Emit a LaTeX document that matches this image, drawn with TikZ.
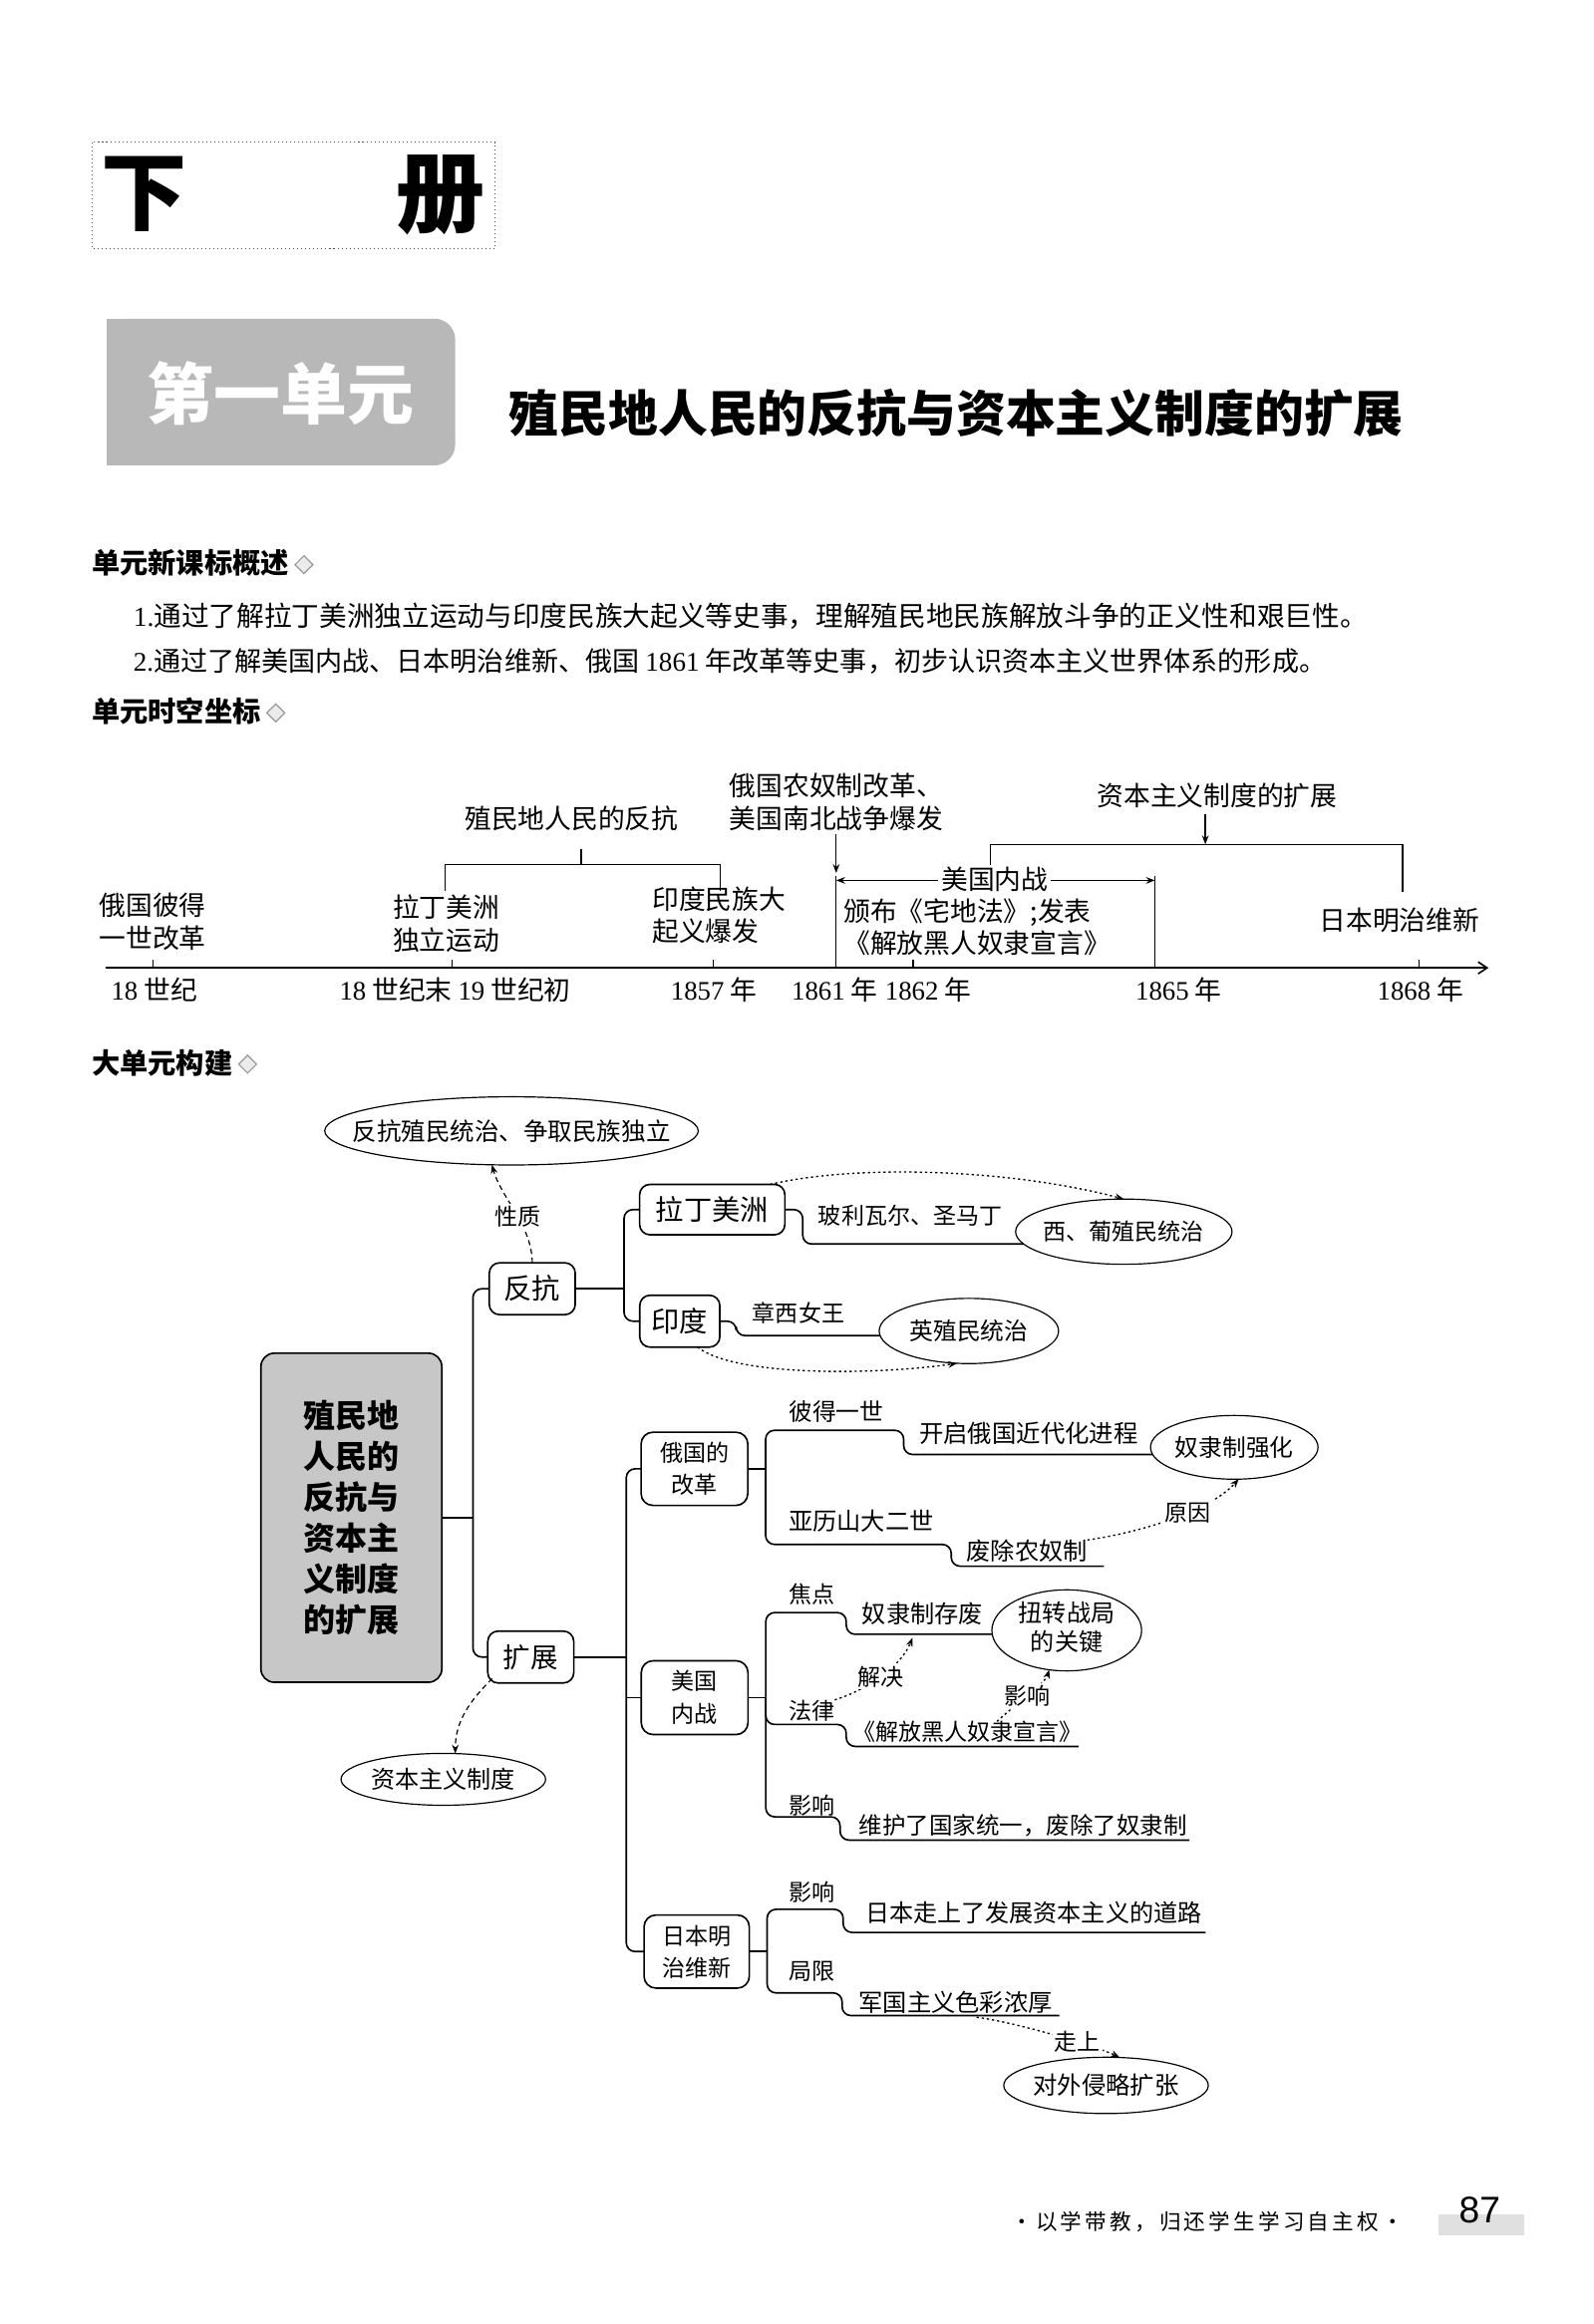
\documentclass[tikz,border=0pt]{standalone}
\usepackage{fontspec}
\setmainfont{Noto Sans CJK SC}
\newfontfamily\lsr{Liberation Serif}
\newfontfamily\lss{Liberation Sans}
\usetikzlibrary{shapes.geometric,arrows.meta,calc}
\newcommand\fsz[2]{\fontsize{#1}{#2}\selectfont}
\newcommand\zw[1]{\makebox[0pt]{#1}}
\tikzset{
  every node/.style={inner sep=0pt, outer sep=0pt},
  lbl/.style={anchor=west, font=\fsz{16}{19}},
  tl/.style={anchor=west, align=left, font=\fsz{18}{22}},
  tc/.style={font=\fsz{18}{22}},
  box/.style={draw, line width=1.1pt, rounded corners=7pt, fill=white, align=center},
  oval/.style={draw, ellipse, line width=0.8pt, fill=white, align=center},
  conn/.style={line width=1.1pt, rounded corners=6pt},
  tline/.style={line width=0.9pt},
  tip/.style={-{Stealth[length=6pt,width=4.5pt]}},
  dotarr/.style={line width=0.9pt, dash pattern=on 1.5pt off 2pt, -{Stealth[length=6pt,width=4.5pt]}},
  dasharr/.style={line width=0.8pt, dash pattern=on 3.5pt off 2.5pt, -{Stealth[length=6pt,width=4.5pt]}},
  onpath/.style={fill=white, inner sep=1.5pt, font=\fsz{15.5}{18}},
  ico/.style={diamond, draw=black!40, line width=0.8pt, fill=black!8, minimum width=12pt, minimum height=12pt},
  hd/.style={anchor=west, font=\fsz{19}{22}\bfseries},
}
\begin{document}
\begin{tikzpicture}[x=1pt,y=-1pt]
\useasboundingbox (0,0) rectangle (1075,1568);
\fill[white] (0,0) rectangle (1075,1568);

% ---------- header ----------
\draw[dotted, line width=0.7pt, black!70] (62,96) rectangle (334,168);
\node[font=\fsz{58}{60}\bfseries] (xia) at (97,131) {下};
\node[font=\fsz{60}{62}\bfseries] (ce) at (297.5,131.5) {册};

\fill[black!28, rounded corners=14pt] (72,215) rectangle (307,314);
\fill[black!28] (72,215) rectangle (150,314);
\node[font=\fsz{45}{48}\bfseries, text=white] (dyy) at (189.5,265.5) {第一单元};
\node[font=\fsz{33.5}{36}\bfseries] (title) at (645,279) {殖民地人民的反抗与资本主义制度的扩展};

% ---------- section 1 ----------
\node[hd] (h1) at (62,380) {单元新课标概述};
\node[ico] (h1i) at ($(h1.east)+(10,1)$) {};
\node[anchor=west, font=\fsz{18.6}{21}] (s1) at (90,416) {{\lsr 1.}通过了解拉丁美洲独立运动与印度民族大起义等史事，理解殖民地民族解放斗争的正义性和艰巨性。};
\node[anchor=west, font=\fsz{18.2}{21}] (s2) at (90,446) {{\lsr 2.}通过了解美国内战、日本明治维新、俄国 {\lsr 1861} 年改革等史事，初步认识资本主义世界体系的形成。};
\node[hd] (h2) at (62,480) {单元时空坐标};
\node[ico] (h2i) at ($(h2.east)+(10,1)$) {};

% ---------- timeline ----------
\draw[line width=1.1pt, -{Straight Barb[length=6pt,width=8pt]}] (71,653) -- (1004,653);
\foreach \x in {103.4,305,481,616,957} \draw[tline] (\x,653) -- (\x,647.5);
\node[tc] (a18) at (104,668) {{\lsr 18} 世纪};
\node[tc] (a19) at (307,668) {{\lsr 18} 世纪末 {\lsr 19} 世纪初};
\node[tc] (a57) at (481.5,668) {{\lsr 1857} 年};
\node[tc] (a61) at (563,668) {{\lsr 1861} 年};
\node[tc] (a62) at (626,668) {{\lsr 1862} 年};
\node[tc] (a65) at (795,668) {{\lsr 1865} 年};
\node[tc] (a68) at (958,668) {{\lsr 1868} 年};

\node[tl] (ev1) at (67,622) {俄国彼得\\一世改革};
\node[tl] (ev2) at (265,623) {拉丁美洲\\独立运动};
\node[tl] (ev3) at (440,617.5) {印度民族大\\起义爆发};
\node[tl] (ev4) at (492,541) {俄国农奴制改革、\\美国南北战争爆发};
\node[tl] (ev5) at (569,625.5) {颁布《宅地法》;发表\\《解放黑人奴隶宣言》};
\node[tl] (ev6) at (890,621) {日本明治维新};
\node[tc] (g1) at (385.5,552) {殖民地人民的反抗};
\node[tc] (g2) at (821,537) {资本主义制度的扩展};

\draw[tline] (300,601) |- (486,583.3) -- (486,601);
\draw[tline] (392,572.6) -- (392,583.3);
\draw[tline, tip] (564,563) -- (564,589);
\draw[tline] (564,591) -- (564,653);
\draw[tline] (779,591) -- (779,653);
\draw[tline, {Stealth[length=6pt,width=4.5pt]}-{Stealth[length=6pt,width=4.5pt]}] (564,594) -- (779,594);
\draw[tline] (668,594) |- (946,569.7) -- (946,601.7);
\draw[tline, tip] (813,549) -- (813,569.7);
\node[tc, fill=white, inner xsep=2pt, inner ysep=1pt] (mgnz) at (671,593) {美国内战};

% ---------- mind map ----------
\node[hd] (h3) at (62,717) {大单元构建};
\node[ico] (h3i) at ($(h3.east)+(10,1)$) {};

\node[draw, line width=1.1pt, rounded corners=9pt, fill=black!22, minimum width=122, minimum height=222, align=center, font=\fsz{21.5}{27.5}\bfseries] (main) at (237,1024) {殖民地\\人民的\\反抗与\\资本主\\义制度\\的扩展};

\node[oval, minimum width=252, minimum height=46, font=\fsz{16.5}{19}] (e1) at (345,763) {\zw{反抗殖民统治、争取民族独立}};
\node[box, font=\fsz{19}{22}, minimum width=58, minimum height=35] (fk) at (359,869.5) {反抗};
\node[box, font=\fsz{18.5}{22}, minimum width=58, minimum height=35] (kz) at (358,1118) {扩展};
\node[oval, minimum width=138, minimum height=35, font=\fsz{16.2}{19}] (zb) at (299,1200.5) {\zw{资本主义制度}};

\node[box, font=\fsz{19}{22}, minimum width=98, minimum height=34] (ldmz) at (480.4,816.1) {拉丁美洲};
\node[box, font=\fsz{19}{22}, minimum width=54, minimum height=35] (yd) at (458.5,891.4) {印度};
\node[oval, minimum width=146, minimum height=44, font=\fsz{15.5}{18}] (xp) at (758,831) {\zw{西、葡殖民统治}};
\node[oval, minimum width=121, minimum height=44, font=\fsz{16}{19}] (yz) at (653.5,898) {\zw{英殖民统治}};

\node[box, font=\fsz{15.5}{21.5}, minimum width=72, minimum height=49.4, rounded corners=8pt] (eg) at (468.4,991) {俄国的\\改革};
\node[box, font=\fsz{15.5}{22.4}, minimum width=72, minimum height=49.8, rounded corners=8pt] (mg) at (468.5,1145.4) {美国\\内战};
\node[box, font=\fsz{15.5}{21.5}, minimum width=71, minimum height=49.3, rounded corners=8pt] (rb) at (469.9,1316.7) {日本明\\治维新};

\node[oval, minimum width=113, minimum height=43, font=\fsz{16}{19}] (nl) at (832.5,976.5) {\zw{奴隶制强化}};
\node[oval, minimum width=101, minimum height=54, font=\fsz{16.2}{19}] (nz) at (719.5,1100) {\zw{\begin{tabular}{@{}c@{}}扭转战局\\的关键\end{tabular}}};
\node[oval, minimum width=138, minimum height=38, font=\fsz{16.4}{19}] (dw) at (746,1407) {\zw{对外侵略扩张}};

% labels
\node[lbl, font=\fsz{15.5}{18}] (blwe) at (552,820) {玻利瓦尔、圣马丁};
\node[lbl, font=\fsz{15.5}{18}] (zxnw) at (507.6,886) {章西女王};
\node[lbl] (pdys) at (532,952.5) {彼得一世};
\node[lbl, font=\fsz{16.4}{19}] (kqeg) at (620,967) {开启俄国近代化进程};
\node[lbl, font=\fsz{16.3}{19}] (ylsd) at (532,1026.4) {亚历山大二世};
\node[lbl, font=\fsz{16.3}{19}] (fcnn) at (652,1046.6) {废除农奴制};
\node[lbl, font=\fsz{15.5}{18}] (jd) at (532,1075.7) {焦点};
\node[lbl, font=\fsz{16.3}{19}] (nlcf) at (581.5,1088.7) {奴隶制存废};
\node[lbl, font=\fsz{15.5}{18}] (fl) at (532,1154) {法律};
\node[lbl, font=\fsz{15.5}{18}] (jfxy) at (575,1168.7) {《解放黑人奴隶宣言》};
\node[lbl, font=\fsz{15.5}{18}] (yx1) at (532,1218) {影响};
\node[lbl, font=\fsz{15.8}{19}] (whtg) at (579.4,1231.4) {维护了国家统一，废除了奴隶制};
\node[lbl, font=\fsz{15.5}{18}] (yx2) at (532,1276.3) {影响};
\node[lbl, font=\fsz{16.2}{19}] (rbzs) at (583.7,1290.4) {日本走上了发展资本主义的道路};
\node[lbl, font=\fsz{15.5}{18}] (jx) at (532,1330) {局限};
\node[lbl, font=\fsz{16.3}{19}] (gzzy) at (579.4,1350.9) {军国主义色彩浓厚};

% underline ends
\coordinate (u1) at (744.5,1056.7);
\coordinate (u2) at (727.4,1178.3);
\coordinate (u3) at (802.3,1241.5);
\coordinate (u4) at (813.1,1303.8);
\coordinate (u5) at (714.5,1359.9);

% spines
\coordinate (s0) at ($(fk.west)+(-11,0)$);
\draw[conn] (fk.west) -- (s0) |- (kz.west);
\draw[conn] (main.east) -- (main.east -| s0);

\coordinate (s1) at ($(ldmz.west)+(-10.5,0)$);
\draw[conn] (ldmz.west) -- (s1) |- (yd.west);
\draw[conn] (fk.east) -- (fk.east -| s1);
\draw[conn] (ldmz.east) -- ++(12,0) |- (xp.187);
\draw[conn] (yd.east) -- ++(11,0) |- (yz.183);

\coordinate (s2) at ($(eg.west)+(-10,0)$);
\draw[conn] (eg.west) -- (s2) |- (rb.west);
\draw[conn] (kz.east) -- (kz.east -| s2);
\draw[conn] (mg.west) -- (mg.west -| s2);

\coordinate (j1) at ($(eg.east)+(12,0)$);
\draw[conn] (eg.east) -- (j1);
\draw[conn] (j1) |- (609.5,965) |- (nl.185);
\draw[conn] (j1) |- (641.6,1042) |- (u1);

\coordinate (j2) at ($(mg.east)+(12,0)$);
\draw[conn] (mg.east) -- (j2);
\draw[conn] (j2) |- (570.8,1088) |- (nz.183);
\draw[conn] (j2) |- (570.8,1163.5) |- (u2);
\draw[conn] (j2) |- (566.6,1225.8) |- (u3);

\coordinate (j3) at ($(rb.east)+(12,0)$);
\draw[conn] (rb.east) -- (j3);
\draw[conn] (j3) |- (568.7,1288.2) |- (u4);
\draw[conn] (j3) |- (568,1344.6) |- (u5);

% dotted / dashed arrows
\draw[dasharr] (fk.north) .. controls +(0,-25) and +(6,22) .. node[onpath, pos=0.45] (xz) {性质} (e1.240);
\draw[dasharr] ($(kz.south west)+(3,-3)$) .. controls +(-15,15) and +(0,-22) .. (zb.65);
\draw[dotarr] ($(ldmz.north east)+(-10,0)$) .. controls +(60,-14) and +(-75,-20) .. (xp.north);
\draw[dotarr] ($(yd.south east)+(-15,0)$) .. controls +(25,20) and +(-55,8) .. (yz.250);
\draw[dotarr] (fcnn.north east) .. controls +(35,-5) and +(-20,22) .. node[onpath, pos=0.6] (yy) {原因} (nl.278);
\coordinate (jjt) at (615.5,1105);
\draw[dotarr] (fl.north east) .. controls +(20,-6) and +(-8,20) .. node[onpath, pos=0.5] (jj) {解决} (jjt);
\draw[dotarr] ($(jfxy.north)+(20,0)$) .. controls +(10,-10) and +(-3,10) .. node[onpath, pos=0.5] (yx3) {影响} (nz.246);
\coordinate (zss) at (658.7,1361);
\draw[dotarr] (zss) .. controls +(30,4) and +(-12,-6) .. node[onpath, pos=0.62] (zs) {走上} (dw.64);

% ---------- footer ----------
\node[anchor=west, font=\fsz{14.5}{18}\addfontfeature{LetterSpace=15}] (motto) at (682,1499) {·以学带教，归还学生学习自主权·};
\fill[black!12] (970,1494) rectangle (1028,1508);
\node[font=\lss\fsz{25}{28}] (pg) at (998,1491) {87};
\end{tikzpicture}
\end{document}
